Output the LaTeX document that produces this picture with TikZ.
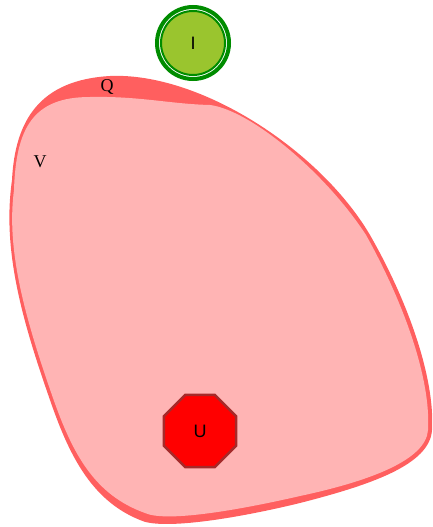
\documentclass[tikz,border=0pt]{standalone}
\usepackage{fontspec}
\setmainfont{Liberation Serif}
\newfontfamily\labelsans{Liberation Sans}
\usetikzlibrary{shapes.geometric}

\definecolor{clusterQ}{HTML}{FF5F5F}
\definecolor{clusterV}{HTML}{FFB4B4}
\definecolor{ringgreen}{HTML}{008C00}
\definecolor{leafgreen}{HTML}{9AC52E}
\definecolor{rimbrown}{HTML}{A52A2A}

\tikzset{
    clusterlabel/.style={font=\fontsize{18}{20}\selectfont, inner sep=0pt},
    startnode/.style={circle, draw=ringgreen, line width=2pt, fill=leafgreen,
        minimum size=64pt, inner sep=0pt, font=\labelsans\fontsize{18}{20}\selectfont},
    stopnode/.style={regular polygon, regular polygon sides=8, draw=rimbrown,
        line width=2.5pt, fill=red, minimum size=78pt, inner sep=0pt,
        font=\labelsans\fontsize{18}{20}\selectfont}
}

\begin{document}
\begin{tikzpicture}[x=1pt, y=-1pt]
        \useasboundingbox (0,0) rectangle (432,527);
        % cluster Q
        \fill [clusterQ] (12,180)
            .. controls (15,120) and (40,80) .. (110,76)
            .. controls (200,72) and (320,150) .. (370,235)
            .. controls (410,305) and (435,380) .. (432,430)
            .. controls (430,465) and (370,485) .. (300,503)
            .. controls (230,520) and (160,530) .. (140,520)
            .. controls (90,500) and (68,452) .. (50,400)
            .. controls (22,320) and (2,250) .. (12,180) -- cycle;
        % cluster V
        \fill [clusterV] (14,190)
            .. controls (16,128) and (33,97) .. (90,97)
            .. controls (140,96) and (170,104) .. (210,105)
            .. controls (250,110) and (325,172) .. (366,235)
            .. controls (405,305) and (431,380) .. (428,430)
            .. controls (426,460) and (370,481) .. (300,496)
            .. controls (230,512) and (165,522) .. (145,513)
            .. controls (95,495) and (73,455) .. (53,398)
            .. controls (25,318) and (6,250) .. (14,190) -- cycle;
        \node [clusterlabel] (labelQ) at (107,87) {Q};
        \node [clusterlabel] (labelV) at (40,162) {V};
        \node [startnode] (I) at (193,43) {I};
        \draw [ringgreen, line width=4pt] (I.center) circle (36pt);
        \node [stopnode] (U) at (200,431) {U};
    \end{tikzpicture}
\end{document}
